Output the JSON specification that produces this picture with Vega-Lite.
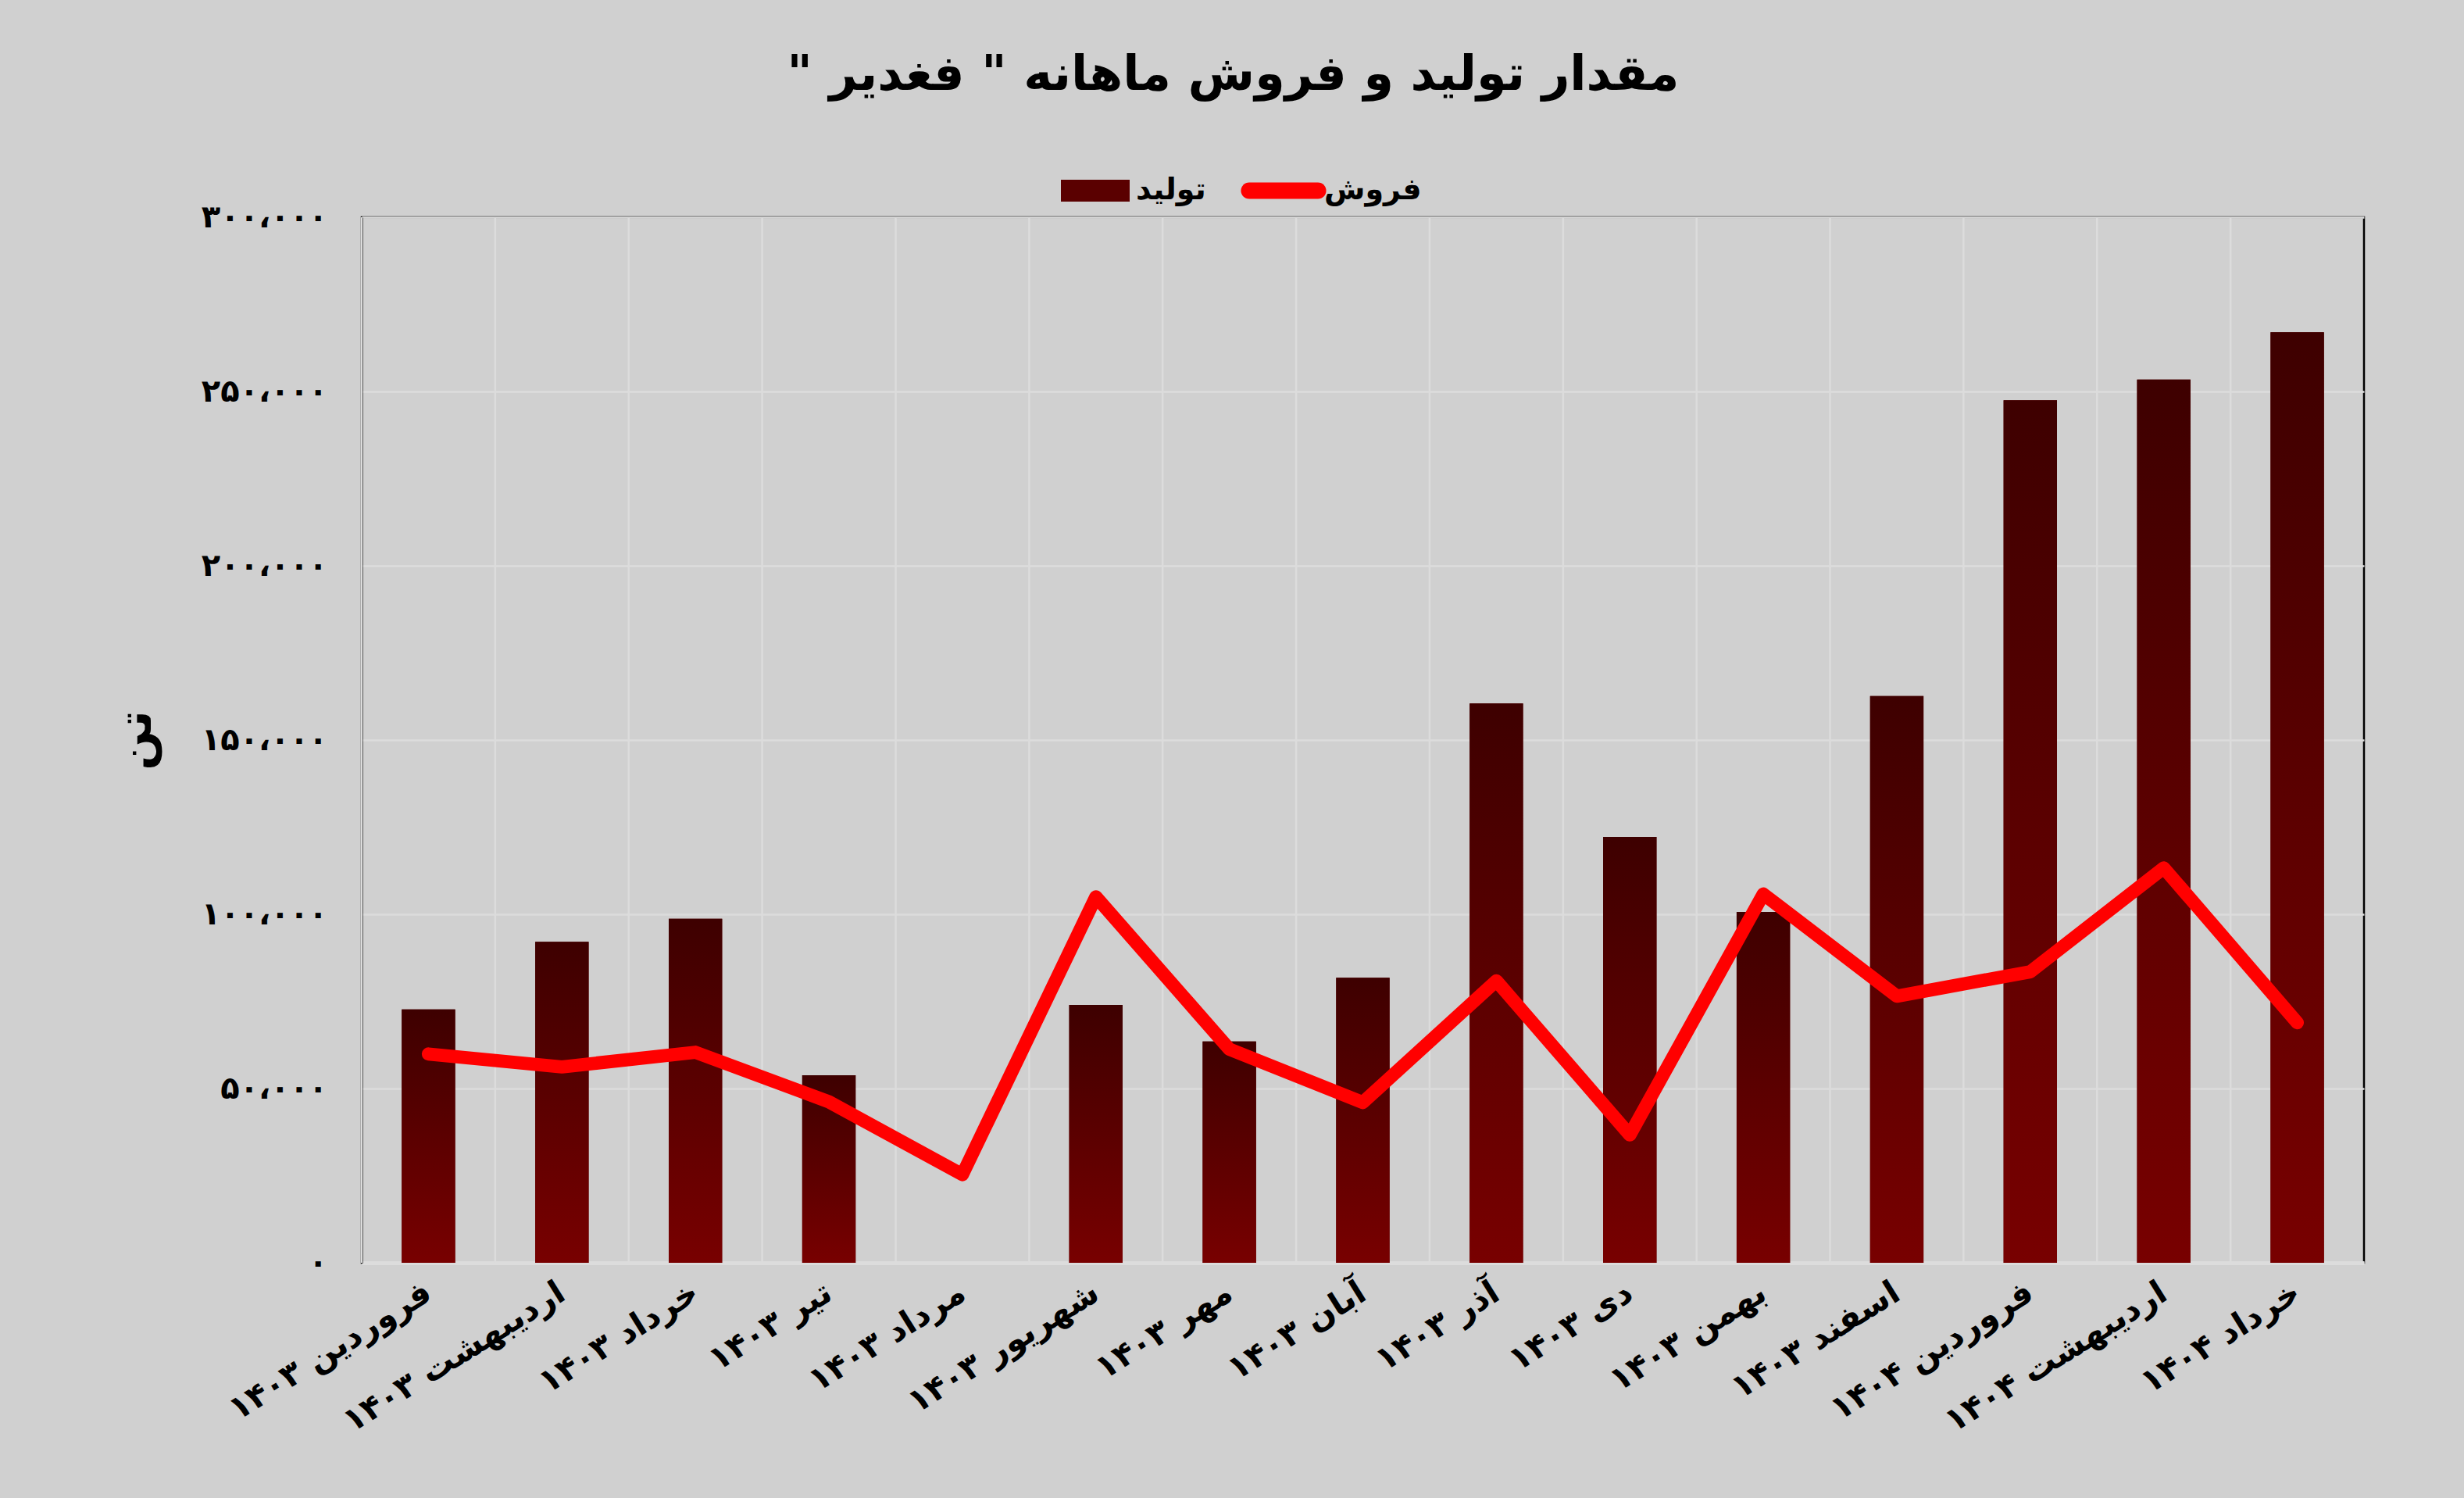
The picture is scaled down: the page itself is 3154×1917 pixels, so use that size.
{
  "$schema": "https://vega.github.io/schema/vega-lite/v6.json",
  "description": "مقدار تولید و فروش ماهانه فغدیر",
  "width": 2563,
  "height": 1338,
  "autosize": "none",
  "padding": {"left": 463, "top": 278, "right": 128, "bottom": 301},
  "background": "#d0d0d0",
  "title": {
    "text": "‏مقدار تولید و فروش ماهانه \" فغدیر \"‏",
    "font": "DejaVu Sans",
    "fontSize": 62,
    "fontWeight": "bold",
    "color": "black",
    "anchor": "middle",
    "frame": "group",
    "dx": -166,
    "offset": 72
  },
  "data": {
    "values": [
      {"month": "فروردین ۱۴۰۳", "production": 72700, "sales": 59900},
      {"month": "اردیبهشت ۱۴۰۳", "production": 92100, "sales": 56200},
      {"month": "خرداد ۱۴۰۳", "production": 98700, "sales": 60400},
      {"month": "تیر ۱۴۰۳", "production": 53800, "sales": 46200},
      {"month": "مرداد ۱۴۰۳", "production": 0, "sales": 25300},
      {"month": "شهریور ۱۴۰۳", "production": 74000, "sales": 105000},
      {"month": "مهر ۱۴۰۳", "production": 63500, "sales": 61300},
      {"month": "آبان ۱۴۰۳", "production": 81800, "sales": 46000},
      {"month": "آذر ۱۴۰۳", "production": 160500, "sales": 80900},
      {"month": "دی ۱۴۰۳", "production": 122200, "sales": 36700},
      {"month": "بهمن ۱۴۰۳", "production": 100700, "sales": 105800},
      {"month": "اسفند ۱۴۰۳", "production": 162600, "sales": 76500},
      {"month": "فروردین ۱۴۰۴", "production": 247500, "sales": 83500},
      {"month": "اردیبهشت ۱۴۰۴", "production": 253400, "sales": 113300},
      {"month": "خرداد ۱۴۰۴", "production": 267000, "sales": 68900}
    ]
  },
  "encoding": {
    "x": {
      "field": "month",
      "type": "nominal",
      "sort": null,
      "scale": {"paddingInner": 0.6, "paddingOuter": 0.3},
      "axis": {
        "title": null,
        "labelAngle": -32,
        "labelAlign": "right",
        "labelBaseline": "middle",
        "labelPadding": 34,
        "labelFont": "DejaVu Sans",
        "labelFontSize": 42,
        "labelFontWeight": "bold",
        "labelColor": "black",
        "labelLimit": 0,
        "labelOverlap": false,
        "ticks": false,
        "grid": false,
        "domainColor": "#dcdcdc",
        "domainWidth": 5
      }
    }
  },
  "layer": [
    {
      "mark": {"type": "rule", "color": "#dcdcdc", "strokeWidth": 2.5},
      "encoding": {
        "x": {"field": "month", "type": "nominal", "sort": null, "bandPosition": -0.75}
      }
    },
    {
      "mark": {"type": "bar"},
      "encoding": {
        "y": {
          "field": "production",
          "type": "quantitative",
          "scale": {"domain": [0, 300000], "nice": false},
          "axis": {
            "title": "تن",
            "titleFont": "DejaVu Sans",
            "titleFontSize": 60,
            "titleFontWeight": "bold",
            "titleColor": "black",
            "titlePadding": 58,
            "values": [0, 50000, 100000, 150000, 200000, 250000, 300000],
            "labelExpr": "replace(replace(replace(replace(replace(replace(format(datum.value, ','), regexp('0', 'g'), '۰'), regexp('1', 'g'), '۱'), regexp('2', 'g'), '۲'), regexp('3', 'g'), '۳'), regexp('5', 'g'), '۵'), regexp(',', 'g'), '،')",
            "labelFont": "DejaVu Sans",
            "labelFontSize": 40,
            "labelFontWeight": "bold",
            "labelColor": "black",
            "labelPadding": 44,
            "ticks": false,
            "grid": true,
            "gridColor": "#dcdcdc",
            "gridWidth": 2.5,
            "domainColor": "black",
            "domainWidth": 2.5
          }
        },
        "color": {
          "datum": "تولید",
          "type": "nominal",
          "scale": {"domain": ["تولید", "فروش"], "range": ["#5a0000", "#ff0000"]},
          "legend": {
            "title": null,
            "orient": "none",
            "direction": "horizontal",
            "legendX": 895,
            "legendY": -78,
            "symbolSize": 7744,
            "labelFont": "DejaVu Sans",
            "labelFontSize": 38,
            "labelFontWeight": "bold",
            "labelColor": "black",
            "labelOffset": 8,
            "columnPadding": 44,
            "encode": {
              "symbols": {
                "update": {
                  "shape": {"signal": "datum.value === 'فروش' ? 'M-1,-0.24H1A0.24,0.24 0 0 1 1,0.24H-1A0.24,0.24 0 0 1 -1,-0.24Z' : 'M-1,-0.32H1V0.32H-1Z'"},
                  "fill": {"signal": "datum.value === 'فروش' ? '#ff0000' : {gradient: 'linear', x1: 0, y1: 0, x2: 1, y2: 1, stops: [{offset: 0, color: '#3e0000'}, {offset: 1, color: '#780000'}]}"},
                  "stroke": {"value": "transparent"},
                  "strokeWidth": {"value": 0},
                  "opacity": {"value": 1}
                }
              }
            }
          }
        }
      }
    },
    {
      "mark": {
        "type": "bar",
        "color": {
          "gradient": "linear",
          "x1": 0, "y1": 0, "x2": 0, "y2": 1,
          "stops": [
            {"offset": 0, "color": "#3e0000"},
            {"offset": 1, "color": "#780000"}
          ]
        }
      },
      "encoding": {
        "y": {"field": "production", "type": "quantitative"}
      }
    },
    {
      "mark": {
        "type": "line",
        "strokeWidth": 17,
        "strokeCap": "round",
        "strokeJoin": "round"
      },
      "encoding": {
        "y": {"field": "sales", "type": "quantitative"},
        "color": {"datum": "فروش", "type": "nominal"}
      }
    }
  ],
  "config": {
    "view": {"stroke": "black", "strokeWidth": 2.5}
  }
}
